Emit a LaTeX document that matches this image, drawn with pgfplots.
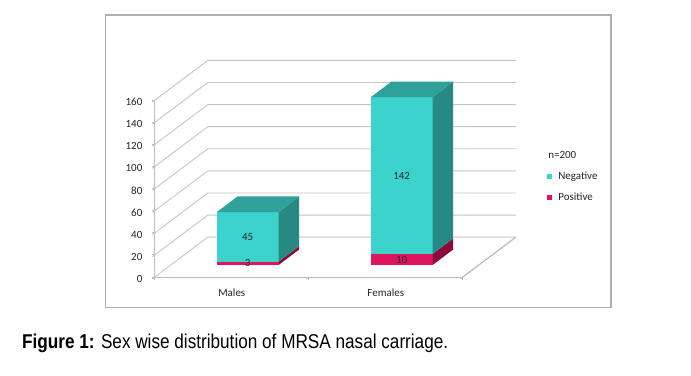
\documentclass[border=0pt]{standalone}
\usepackage{pgfplots}
\pgfplotsset{compat=1.18}
\usepackage{fontspec}
\setmainfont{Carlito}
\newfontfamily\capfont{Liberation Sans}
\usepackage{graphicx}
\definecolor{negf}{HTML}{3CD3CC}
\definecolor{negt}{HTML}{2EA29A}
\definecolor{negs}{HTML}{268A83}
\definecolor{posf}{HTML}{E0135F}
\definecolor{poss}{HTML}{8E0B3E}
\definecolor{gridc}{HTML}{C6C6C6}
\definecolor{linec}{HTML}{BBBBBB}
\definecolor{framec}{HTML}{AFAFAF}
\definecolor{txt}{HTML}{262626}
\begin{document}
\begin{tikzpicture}[x=1pt,y=1pt]
\fill[white] (0,0) rectangle (691,375);
\path[use as bounding box] (0,0) rectangle (691,375);
\draw[framec, line width=1.5pt] (105.5,360) rectangle (611,67.5);
\begin{axis}[
  at={(154.8pt,98pt)}, anchor=origin,
  x={(154pt,0pt)}, y={(53pt,39.8pt)}, z={(0pt,1.105pt)},
  xmin=0, xmax=2, ymin=0, ymax=1, zmin=0, zmax=160,
  clip=false,
  axis lines*=left,
  axis line style={linec, line width=0.9pt},
  ytick=\empty,
  ztick={0,20,...,160},
  xtick={0,1,2}, xticklabels={},
  extra x ticks={0.5,1.5},
  extra x tick labels={Males,Females},
  extra x tick style={major tick length=0pt, xticklabel style={anchor=north, yshift=-8.5pt}},
  major tick length=3pt,
  tick align=outside,
  tick style={linec, line width=0.8pt},
  /pgf/number format/assume math mode=true,
  tick label style={font=\fontsize{11}{13}\selectfont, text=txt},
  zticklabel style={anchor=east, xshift=-6.5pt},
  legend style={at={(axis cs:2.547,0,116)}, anchor=north west, draw=none, fill=none,
    font=\fontsize{11}{13}\selectfont, text=txt, row sep=8pt, inner sep=0pt,
    /tikz/every odd column/.append style={column sep=4.5pt}},
  legend cell align=left,
  legend image code/.code={\fill[#1] (0pt,-2.3pt) rectangle (4.6pt,2.3pt);},
]
% grid lines on left and back walls
\pgfplotsinvokeforeach{0,20,...,160}{
  \addplot3[gridc, line width=0.9pt, forget plot] coordinates {(0,0,#1) (0,1,#1) (2,1,#1)};
}
% floor right edge
\addplot3[linec, line width=0.9pt, forget plot] coordinates {(2,0,0) (2,1,0)};
% ---- Males: Positive 3, Negative 45 ----
\addplot3[fill=posf, draw=none, forget plot] coordinates {(0.3,0.3,0) (0.7,0.3,0) (0.7,0.3,3) (0.3,0.3,3)};
\addplot3[fill=poss, draw=none, forget plot] coordinates {(0.7,0.3,0) (0.7,0.69,0) (0.7,0.69,3) (0.7,0.3,3)};
\addplot3[fill=negf, draw=none, forget plot] coordinates {(0.3,0.3,3) (0.7,0.3,3) (0.7,0.3,48) (0.3,0.3,48)};
\addplot3[fill=negs, draw=none, forget plot] coordinates {(0.7,0.3,3) (0.7,0.69,3) (0.7,0.69,48) (0.7,0.3,48)};
\addplot3[fill=negt, draw=none, forget plot] coordinates {(0.3,0.3,48) (0.7,0.3,48) (0.7,0.69,48) (0.3,0.69,48)};
% ---- Females: Positive 10, Negative 142 ----
\addplot3[fill=posf, draw=none, forget plot] coordinates {(1.3,0.3,0) (1.7,0.3,0) (1.7,0.3,10) (1.3,0.3,10)};
\addplot3[fill=poss, draw=none, forget plot] coordinates {(1.7,0.3,0) (1.7,0.69,0) (1.7,0.69,10) (1.7,0.3,10)};
\addplot3[fill=negf, draw=none, forget plot] coordinates {(1.3,0.3,10) (1.7,0.3,10) (1.7,0.3,152) (1.3,0.3,152)};
\addplot3[fill=negs, draw=none, forget plot] coordinates {(1.7,0.3,10) (1.7,0.69,10) (1.7,0.69,152) (1.7,0.3,152)};
\addplot3[fill=negt, draw=none, forget plot] coordinates {(1.3,0.3,152) (1.7,0.3,152) (1.7,0.69,152) (1.3,0.69,152)};
% value labels
\addplot3[draw=none, forget plot, nodes near coords, point meta=explicit symbolic,
  every node near coord/.append style={anchor=center, font=\fontsize{11}{13}\selectfont, text=txt}]
  coordinates {(0.5,0.3,1.5) [3] (0.5,0.3,25.5) [45] (1.5,0.3,5) [10] (1.5,0.3,81) [142]};
% legend
\addlegendimage{empty legend}
\addlegendentry{\hspace*{-10pt}n=200}
\addlegendimage{fill=negf, draw=none}
\addlegendentry{Negative}
\addlegendimage{fill=posf, draw=none}
\addlegendentry{Positive}
\end{axis}
\node[anchor=base west, inner sep=0pt, text=black] at (22,27)
  {\resizebox{426pt}{\height}{\capfont\fontsize{20}{24}\selectfont\textbf{Figure 1:} Sex wise distribution of MRSA nasal carriage.}};
\end{tikzpicture}
\end{document}
